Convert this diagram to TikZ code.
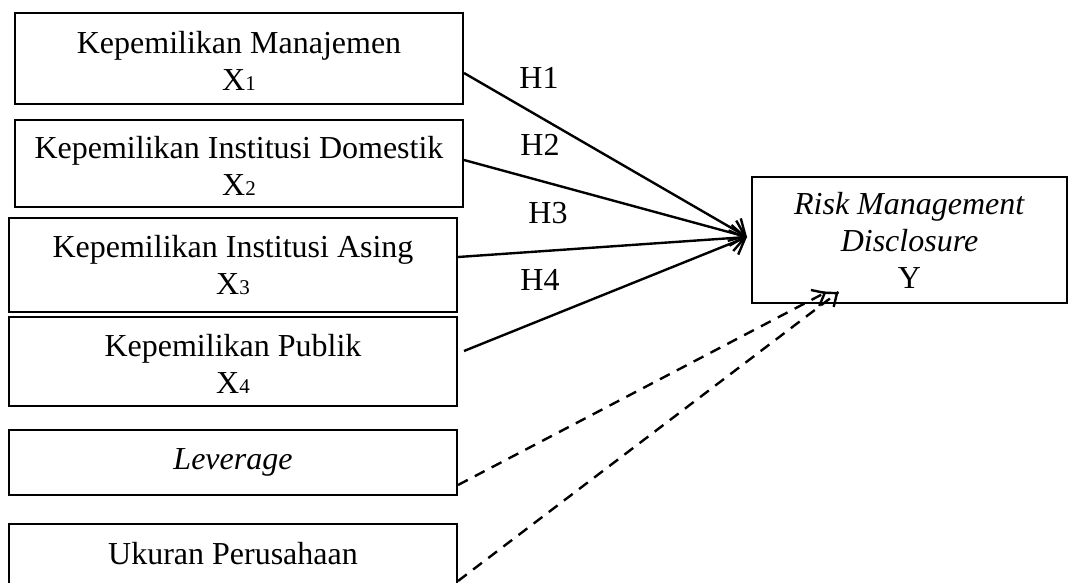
\documentclass[tikz,border=0pt]{standalone}
\usepackage{fontspec}
\setmainfont{Liberation Serif}
\usetikzlibrary{arrows.meta,calc}
\newcommand\sd[1]{{\fontsize{21}{21}\selectfont #1}}
\newcommand\up{\rule{0pt}{26pt}}
\begin{document}
\begin{tikzpicture}[x=1pt,y=-1pt,
  box/.style={draw,line width=2pt,minimum width=448pt,inner sep=0pt,align=center,font=\fontsize{32}{37}\selectfont},
  lab/.style={font=\fontsize{32}{37}\selectfont,inner sep=0pt},
  conn/.style={line width=2.4pt,-{Straight Barb[length=13pt,width=26pt,line width=2.4pt]}},
  ctrl/.style={line width=2.4pt,dash pattern=on 11pt off 8pt},
  ctrltip/.style={line width=2.4pt,solid,-{Straight Barb[length=11pt,width=18pt,line width=2.4pt]}}]
\useasboundingbox (0,0) rectangle (1069,582);
\clip (0,0) rectangle (1069,582);
\node[box,minimum height=91pt] (x1) at (239,58.5) {\up Kepemilikan Manajemen\\X\sd{1}};
\node[box,minimum height=87pt] (x2) at (239,163.5) {\up Kepemilikan Institusi Domestik\\X\sd{2}};
\node[box,minimum height=94pt] (x3) at (233,265) {Kepemilikan Institusi Asing\\X\sd{3}};
\node[box,minimum height=89pt] (x4) at (233,361.5) {\up Kepemilikan Publik\\X\sd{4}};
\node[box,minimum height=65pt] (x5) at (233,462.5) {\textit{Leverage}};
\node[box,anchor=north,text height=22pt,text depth=56pt,inner ysep=18pt] (x6) at (233,523) {Ukuran Perusahaan};
\node[box,minimum width=315pt,minimum height=126pt] (y) at (909.5,240) {\textit{Risk Management}\\\textit{Disclosure}\\Y};
\coordinate (tip) at ($(y.west)+(-4,-3)$);
\coordinate (e1) at ($(y.south)+(-83,-12)$);
\coordinate (e2) at ($(y.south)+(-71,-12)$);
\coordinate (s1) at ($(x5.east)+(0,22.5)$);
\draw[conn] ($(x1.east)+(0,14.5)$) -- (tip);
\draw[conn] ($(x2.east)+(0,-3.5)$) -- (tip);
\draw[conn] ($(x3.east)+(0,-8)$) -- (tip);
\draw[conn] ($(x4.east)+(6,-10.5)$) -- (tip);
\draw[ctrl] (s1) -- (e1);
\draw[ctrltip] ($(e1)!3pt!(s1)$) -- (e1);
\draw[ctrl] (x6.east) -- (e2);
\draw[ctrltip] ($(e2)!3pt!(x6.east)$) -- (e2);
\node[lab] (h1) at (539,77.5) {H1};
\node[lab] (h2) at (540,145) {H2};
\node[lab] (h3) at (548,213) {H3};
\node[lab] (h4) at (540,280) {H4};
\end{tikzpicture}
\end{document}
